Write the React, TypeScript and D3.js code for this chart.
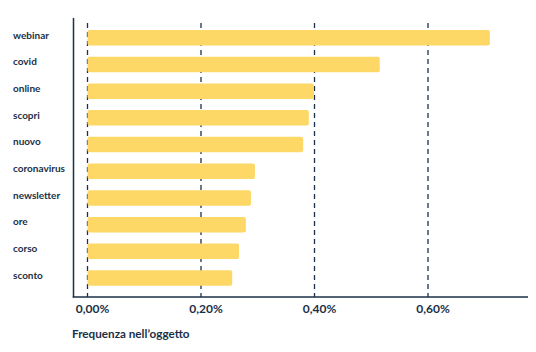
import React, { useEffect, useRef } from "react";
import * as d3 from "d3";

const categories = [
  "webinar",
  "covid",
  "online",
  "scopri",
  "nuovo",
  "coronavirus",
  "newsletter",
  "ore",
  "corso",
  "sconto",
];
const values = [0.709, 0.515, 0.399, 0.39, 0.38, 0.295, 0.288, 0.279, 0.267, 0.255];
const tickValues = [0, 0.2, 0.4, 0.6];
const axisTitle = "Frequenza nell\u2019oggetto";

const ink = "#1b3047";
const barColor = "#fdd866";

const App = () => {
  const svgRef = useRef<SVGSVGElement>(null);

  useEffect(() => {
    const width = 536;
    const height = 352;
    const svg = d3.select(svgRef.current);
    svg.selectAll("*").remove();
    svg.attr("width", width).attr("height", height);

    const x = d3.scaleLinear().domain([0, 0.6]).range([87.5, 428]);
    const y = d3
      .scaleBand()
      .domain(categories)
      .range([24.4, 291.4])
      .paddingInner(0.42)
      .paddingOuter(0.21);

    const font = "Lato, 'Open Sans', sans-serif";

    // dashed gridlines
    svg
      .append("g")
      .selectAll("line")
      .data(tickValues)
      .enter()
      .append("line")
      .attr("x1", (d) => x(d))
      .attr("x2", (d) => x(d))
      .attr("y1", 23)
      .attr("y2", 297)
      .attr("stroke", ink)
      .attr("stroke-width", 1.3)
      .attr("stroke-dasharray", "5,4");

    // bars
    svg
      .append("g")
      .selectAll("rect")
      .data(values)
      .enter()
      .append("rect")
      .attr("x", x(0))
      .attr("y", (d, i) => y(categories[i]) as number)
      .attr("width", (d) => x(d) - x(0))
      .attr("height", y.bandwidth())
      .attr("rx", 2)
      .attr("fill", barColor);

    // axis frame
    svg
      .append("line")
      .attr("x1", 73.5)
      .attr("x2", 73.5)
      .attr("y1", 18)
      .attr("y2", 297.5)
      .attr("stroke", ink)
      .attr("stroke-width", 1.5);
    svg
      .append("line")
      .attr("x1", 72.75)
      .attr("x2", 530)
      .attr("y1", 297)
      .attr("stroke", ink)
      .attr("y2", 297)
      .attr("stroke-width", 1.5);

    // category labels
    svg
      .append("g")
      .selectAll("text")
      .data(categories)
      .enter()
      .append("text")
      .attr("x", 13)
      .attr("y", (d) => (y(d) as number) + 5)
      .attr("dy", "0.35em")
      .attr("fill", ink)
      .attr("font-family", font)
      .attr("font-weight", 700)
      .attr("font-size", 10)
      .text((d) => d);

    // tick labels
    const fmt = (v: number) => v.toFixed(2).replace(".", ",") + "%";
    svg
      .append("g")
      .selectAll("text")
      .data(tickValues)
      .enter()
      .append("text")
      .attr("x", (d) => x(d) + 5)
      .attr("y", 313)
      .attr("text-anchor", "middle")
      .attr("fill", ink)
      .attr("font-family", font)
      .attr("font-weight", 700)
      .attr("font-size", 12)
      .text((d) => fmt(d));

    svg
      .append("text")
      .attr("x", 72)
      .attr("y", 337.5)
      .attr("fill", ink)
      .attr("font-family", font)
      .attr("font-weight", 700)
      .attr("font-size", 11.7)
      .text(axisTitle);
  }, []);

  return (
    <div style={{ margin: -8 }}>
      <svg ref={svgRef} style={{ display: "block" }}></svg>
    </div>
  );
};

export default App;
